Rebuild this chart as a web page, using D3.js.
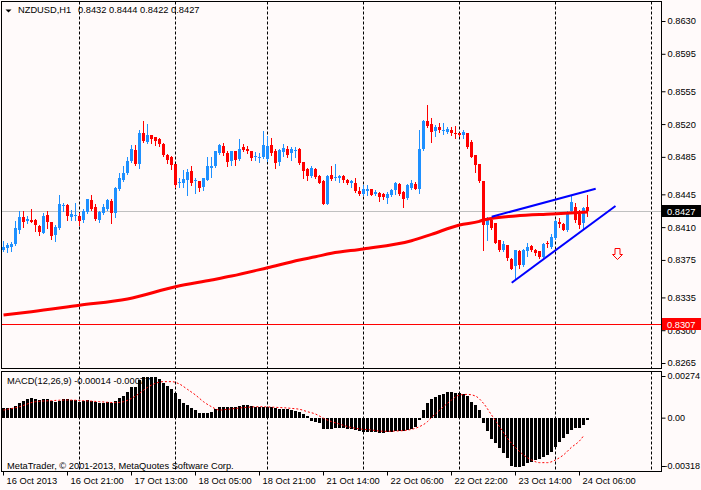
<!DOCTYPE html>
<html>
<head>
<meta charset="utf-8">
<script src="https://cdn.jsdelivr.net/npm/d3@7"></script>
<style>
  body { margin: 0; background: #fffafa; }
  svg { display: block; }
  text { font-family: "Liberation Sans", Arial, sans-serif; font-size: 9.3px; fill: #000; }
  .macdAxis text { font-size: 9px; }
</style>
</head>
<body>
<svg id="chart" width="701" height="490"></svg>
<script>
// ---- data ----
const symbol = "NZDUSD,H1";

const opens = [
  .8386,.8388,.8389,.8392,.8407,.8421,.8417,.8418,.8418,.8411,
  .8404,.8423,.8416,.8402,.8409,.8433,.8434,.8421,.8422,.8422,
  .8418,.8426,.8439,.8431,.8418,.8425,.8429,.8438,.8425,.8451,
  .8460,.8468,.8481,.8492,.8477,.8510,.8501,.8508,.8506,.8504,
  .8499,.8487,.8485,.8477,.8457,.8457,.8460,.8470,.8459,.8459,
  .8453,.8460,.8473,.8475,.8489,.8497,.8489,.8481,.8491,.8483,
  .8495,.8493,.8491,.8485,.8484,.8485,.8483,.8498,.8491,.8479,
  .8490,.8493,.8489,.8491,.8493,.8480,.8472,.8465,.8472,.8465,
  .8459,.8435,.8466,.8463,.8462,.8465,.8460,.8457,.8457,.8449,
  .8445,.8449,.8451,.8445,.8446,.8445,.8441,.8444,.8450,.8456,
  .8448,.8441,.8452,.8456,.8451,.8493,.8523,.8520,.8513,.8517,
  .8513,.8512,.8514,.8511,.8510,.8508,.8511,.8501,.8487,.8477,
  .8459,.8412,.8418,.8414,.8396,.8386,.8391,.8376,.8368,.8384,
  .8370,.8385,.8390,.8386,.8384,.8378,.8393,.8389,.8398,.8416,
  .8413,.8407,.8427,.8431,.8424,.8414,.8432
];
const highs = [
  .8395,.8393,.8394,.8417,.8427,.8427,.8422,.8429,.8419,.8412,
  .8425,.8427,.8416,.8412,.8444,.8436,.8435,.8428,.8436,.8425,
  .8429,.8440,.8444,.8435,.8427,.8435,.8440,.8440,.8453,.8468,
  .8475,.8485,.8498,.8498,.8514,.8523,.8520,.8508,.8506,.8505,
  .8500,.8488,.8486,.8477,.8462,.8471,.8472,.8475,.8462,.8459,
  .8462,.8485,.8485,.8491,.8499,.8500,.8491,.8491,.8491,.8504,
  .8499,.8497,.8491,.8490,.8489,.8513,.8507,.8505,.8493,.8493,
  .8499,.8497,.8495,.8495,.8494,.8480,.8473,.8475,.8473,.8466,
  .8460,.8466,.8475,.8477,.8466,.8466,.8461,.8460,.8462,.8453,
  .8455,.8455,.8451,.8450,.8448,.8446,.8448,.8451,.8458,.8457,
  .8449,.8456,.8460,.8458,.8514,.8524,.8540,.8526,.8519,.8521,
  .8521,.8517,.8517,.8518,.8511,.8514,.8511,.8503,.8487,.8477,
  .8459,.8421,.8419,.8414,.8396,.8395,.8391,.8377,.8386,.8386,
  .8387,.8393,.8391,.8387,.8384,.8393,.8395,.8403,.8418,.8420,
  .8414,.8427,.8444,.8436,.8428,.8431,.8444
];
const lows = [
  .8384,.8383,.8385,.8391,.8404,.8410,.8414,.8416,.8406,.8402,
  .8404,.8409,.8397,.8395,.8408,.8427,.8418,.8418,.8418,.8412,
  .8416,.8425,.8428,.8418,.8415,.8424,.8428,.8414,.8421,.8450,
  .8459,.8467,.8479,.8476,.8473,.8501,.8500,.8500,.8498,.8497,
  .8486,.8478,.8472,.8453,.8453,.8453,.8444,.8455,.8446,.8449,
  .8450,.8460,.8464,.8474,.8488,.8487,.8475,.8476,.8476,.8482,
  .8491,.8489,.8482,.8482,.8480,.8484,.8481,.8487,.8473,.8476,
  .8486,.8485,.8482,.8485,.8477,.8462,.8460,.8463,.8462,.8457,
  .8435,.8435,.8460,.8460,.8458,.8458,.8456,.8453,.8448,.8444,
  .8444,.8444,.8444,.8444,.8438,.8440,.8436,.8443,.8445,.8444,
  .8432,.8440,.8451,.8451,.8446,.8492,.8517,.8501,.8507,.8512,
  .8509,.8510,.8508,.8505,.8507,.8505,.8494,.8485,.8469,.8458,
  .8386,.8396,.8408,.8393,.8384,.8385,.8375,.8365,.8355,.8366,
  .8368,.8379,.8384,.8380,.8377,.8378,.8389,.8388,.8397,.8410,
  .8407,.8406,.8425,.8416,.8409,.8409,.8422
];
const closes = [
  .8389,.8391,.8392,.8409,.8421,.8416,.8419,.8416,.8412,.8405,
  .8422,.8415,.8401,.8410,.8435,.8434,.8422,.8424,.8423,.8417,
  .8427,.8440,.8429,.8419,.8426,.8431,.8439,.8425,.8452,.8462,
  .8468,.8481,.8493,.8477,.8511,.8502,.8508,.8504,.8502,.8499,
  .8487,.8482,.8476,.8455,.8458,.8461,.8469,.8457,.8460,.8452,
  .8462,.8475,.8475,.8491,.8498,.8489,.8480,.8491,.8482,.8493,
  .8492,.8491,.8484,.8486,.8485,.8498,.8497,.8489,.8478,.8492,
  .8494,.8487,.8493,.8492,.8478,.8470,.8465,.8473,.8463,.8457,
  .8435,.8465,.8461,.8464,.8465,.8460,.8457,.8459,.8449,.8445,
  .8451,.8451,.8444,.8448,.8442,.8442,.8445,.8450,.8457,.8445,
  .8440,.8455,.8457,.8451,.8493,.8523,.8518,.8512,.8517,.8514,
  .8514,.8515,.8511,.8509,.8508,.8512,.8495,.8485,.8476,.8459,
  .8412,.8419,.8409,.8393,.8386,.8392,.8377,.8365,.8386,.8370,
  .8386,.8389,.8386,.8382,.8378,.8392,.8392,.8399,.8417,.8413,
  .8407,.8425,.8437,.8418,.8412,.8430,.8427
];

// moving average (thick red), sampled along the bars
const maBars   = [0, 7, 19, 31, 43, 52, 57, 66, 74, 78, 82, 90, 102, 107, 114, 119, 120, 128, 137, 146];
const maValues = [0.83162, 0.83197, 0.83266, 0.83333, 0.83464, 0.83536, 0.83578, 0.83667, 0.83749, 0.83784,
                  0.83821, 0.83867, 0.83955, 0.84023, 0.84123, 0.84162, 0.84176, 0.84219, 0.84240, 0.84261];

// MACD(12,26,9) histogram, one per bar
const macdHist = [
  0.00061,0.00061,0.00061,0.00077,0.00099,0.00112,0.00120,0.00127,0.00120,0.00116,
  0.00120,0.00120,0.00112,0.00105,0.00112,0.00120,0.00120,0.00116,0.00116,0.00105,
  0.00112,0.00116,0.00110,0.00101,0.00099,0.00099,0.00105,0.00099,0.00112,0.00127,
  0.00142,0.00171,0.00199,0.00204,0.00247,0.00265,0.00269,0.00269,0.00265,0.00252,
  0.00230,0.00208,0.00186,0.00160,0.00120,0.00099,0.00083,0.00061,0.00050,0.00033,
  0.00028,0.00033,0.00039,0.00055,0.00072,0.00072,0.00068,0.00072,0.00072,0.00077,
  0.00083,0.00083,0.00077,0.00072,0.00068,0.00072,0.00072,0.00068,0.00061,0.00057,
  0.00057,0.00055,0.00050,0.00046,0.00039,0.00024,0.00011,-0.00022,-0.00031,-0.00037,
  -0.00077,-0.00077,-0.00074,-0.00070,-0.00070,-0.00070,-0.00074,-0.00077,-0.00081,-0.00088,
  -0.00092,-0.00092,-0.00096,-0.00096,-0.00099,-0.00099,-0.00096,-0.00092,-0.00088,-0.00085,
  -0.00085,-0.00081,-0.00077,-0.00059,-0.00015,0.00050,0.00094,0.00120,0.00138,0.00149,
  0.00153,0.00166,0.00166,0.00164,0.00160,0.00153,0.00142,0.00105,0.00083,0.00050,
  -0.00037,-0.00088,-0.00140,-0.00164,-0.00201,-0.00234,-0.00263,-0.00318,-0.00322,-0.00326,
  -0.00318,-0.00300,-0.00289,-0.00278,-0.00274,-0.00256,-0.00245,-0.00223,-0.00195,-0.00158,
  -0.00136,-0.00107,-0.00081,-0.00070,-0.00066,-0.00048,-0.00014
];
// signal line (red dotted), sampled
const signalBars = [0,4,8,12,16,20,24,28,30,32,34,36,38,40,42,44,46,48,50,52,54,56,60,64,68,72,74,76,78,80,
                    82,84,86,88,90,92,94,96,98,100,102,104,106,107,108,110,112,114,116,118,120,122,124,126,128,
                    130,132,134,136,138,140,142,144,145];
const signalValues = [0.00050,0.00072,0.00105,0.00112,0.00116,0.00112,0.00105,0.00099,0.00105,0.00127,
                      0.00160,0.00199,0.00226,0.00237,0.00237,0.00221,0.00186,0.00149,0.00105,0.00072,
                      0.00050,0.00055,0.00066,0.00072,0.00068,0.00061,0.00055,0.00039,0.00024,-0.00004,
                      -0.00026,-0.00042,-0.00059,-0.00070,-0.00077,-0.00081,-0.00088,-0.00090,-0.00088,-0.00085,
                      -0.00077,-0.00059,-0.00026,0.00002,0.00024,0.00072,0.00116,0.00149,0.00153,0.00142,
                      0.00094,0.00018,-0.00059,-0.00136,-0.00197,-0.00245,-0.00278,-0.00296,-0.00296,-0.00278,
                      -0.00245,-0.00195,-0.00153,-0.00120];

const timeTickBars   = [0, 16, 32, 48, 64, 80, 96, 112, 128, 144];
const timeTickLabels = ["16 Oct 2013", "16 Oct 21:00", "17 Oct 13:00", "18 Oct 05:00", "18 Oct 21:00",
                        "21 Oct 14:00", "22 Oct 06:00", "22 Oct 22:00", "23 Oct 14:00", "24 Oct 06:00"];
const gridBars = [19, 43, 66, 90, 114, 138, 162];   // day separators

const priceTicks = [0.8630, 0.8595, 0.8555, 0.8520, 0.8485, 0.8445, 0.8410, 0.8375, 0.8335, 0.8300, 0.8265];
const macdTicks  = [0.00274, 0, -0.00318];
const macdLabel  = "MACD(12,26,9) -0.00014 -0.00077";

// objects drawn on the chart
const trendUpper = [[122.05, 0.84211], [148.05, 0.84510]];
const trendLower = [[127.05, 0.83507], [153.0, 0.84326]];
const levelLine  = 0.8307;
const arrowDown  = [153.4, 0.8388];

// ---- layout ----
const svg = d3.select("#chart");
const W = 701, H = 490;
const L = 1.5, R = 661.5, mainTop = 1.5, mainBot = 368.5, macdTop = 371.5, macdBot = 471.5;
const bg = "#fffafa", bull = "#1e90ff", bear = "#ff0000";

const x  = d3.scaleLinear().domain([0, 1]).range([3.5, 7.5]);
const y  = d3.scaleLinear().domain([0.8265, 0.8630]).range([363, 21]);
const yM = d3.scaleLinear().domain([-0.00318, 0.00274]).range([466, 376]);

svg.append("rect").attr("width", W).attr("height", H).attr("fill", bg);

const defs = svg.append("defs");
defs.append("clipPath").attr("id", "clipMain").append("rect")
  .attr("x", L).attr("y", mainTop).attr("width", R - L).attr("height", mainBot - mainTop);
defs.append("clipPath").attr("id", "clipMacd").append("rect")
  .attr("x", L).attr("y", macdTop).attr("width", R - L).attr("height", macdBot - macdTop);

const main = svg.append("g").attr("clip-path", "url(#clipMain)");
const macd = svg.append("g").attr("clip-path", "url(#clipMacd)");

// day separator grid
[[main, mainTop, mainBot], [macd, macdTop, macdBot]].forEach(([g, t, b]) => {
  g.selectAll("line.grid").data(gridBars).join("line").attr("class", "grid")
    .attr("x1", d => x(d)).attr("x2", d => x(d)).attr("y1", t).attr("y2", b)
    .attr("stroke", "#000").attr("stroke-dasharray", "3,2");
});

// header text
svg.append("path").attr("d", "M5.5,9.5 L11.5,9.5 L8.5,12.5 Z").attr("fill", "#000");
svg.append("text").attr("x", 18).attr("y", 13).text(symbol);
const last = opens.length - 1;
svg.append("text").attr("x", 78).attr("y", 13)
  .text([opens[last], highs[last], lows[last], closes[last]].map(d3.format(".4f")).join(" "));

// bid line and level line
main.append("line").attr("x1", L).attr("x2", R)
  .attr("y1", Math.round(y(closes[last])) + 0.5).attr("y2", Math.round(y(closes[last])) + 0.5)
  .attr("stroke", "#c0c0c0");
main.append("line").attr("x1", L).attr("x2", R)
  .attr("y1", Math.round(y(levelLine)) + 0.5).attr("y2", Math.round(y(levelLine)) + 0.5)
  .attr("stroke", "#ff0000");

// candles
const bars = d3.range(opens.length).map(i => ({ i, o: opens[i], h: highs[i], l: lows[i], c: closes[i] }));
const candle = main.selectAll("g.candle").data(bars).join("g").attr("class", "candle")
  .attr("fill", d => d.c > d.o ? bull : bear);
candle.append("rect")
  .attr("x", d => x(d.i) - 0.5).attr("width", 1)
  .attr("y", d => Math.round(y(d.h)))
  .attr("height", d => Math.round(y(d.l)) - Math.round(y(d.h)) + 1);
candle.append("rect")
  .attr("x", d => x(d.i) - 1.5).attr("width", 3)
  .attr("y", d => Math.round(y(Math.max(d.o, d.c))))
  .attr("height", d => Math.max(1, Math.round(y(Math.min(d.o, d.c))) - Math.round(y(Math.max(d.o, d.c)))));

// moving average
main.append("path")
  .attr("d", d3.line().curve(d3.curveMonotoneX).x(d => x(d)).y((d, k) => y(maValues[k]))(maBars))
  .attr("fill", "none").attr("stroke", "#ff0000").attr("stroke-width", 3);

// trend lines
[trendUpper, trendLower].forEach(t => {
  main.append("line")
    .attr("x1", x(t[0][0])).attr("y1", y(t[0][1]))
    .attr("x2", x(t[1][0])).attr("y2", y(t[1][1]))
    .attr("stroke", "#0000ff").attr("stroke-width", 2);
});

// sell arrow
{
  const cx = Math.round(x(arrowDown[0])) + 0.5, top = Math.round(y(arrowDown[1])) + 0.5;
  main.append("path")
    .attr("d", `M${cx - 2.5},${top} L${cx + 2.5},${top} L${cx + 2.5},${top + 6} L${cx + 5},${top + 6}
                L${cx},${top + 11} L${cx - 5},${top + 6} L${cx - 2.5},${top + 6} Z`)
    .attr("fill", bg).attr("stroke", "#ff0000");
}

// MACD window
svg.append("text").attr("x", 7).attr("y", 384).text(macdLabel);
const zero = Math.round(yM(0));
macd.selectAll("rect.hist").data(macdHist).join("rect").attr("class", "hist")
  .attr("x", (d, i) => x(i) - 1.5).attr("width", 3)
  .attr("y", d => d >= 0 ? Math.round(yM(d)) : zero)
  .attr("height", d => Math.max(1, Math.abs(zero - Math.round(yM(d)))))
  .attr("fill", "#000");
macd.append("path")
  .attr("d", d3.line().curve(d3.curveMonotoneX).x(d => x(d)).y((d, k) => yM(signalValues[k]))(signalBars))
  .attr("fill", "none").attr("stroke", "#ff0000").attr("stroke-dasharray", "2,2");
svg.append("text").attr("x", 7).attr("y", 469)
  .text("MetaTrader, \u00a9 2001-2013, MetaQuotes Software Corp.");

// panel frames
svg.append("rect").attr("x", L).attr("y", mainTop).attr("width", R - L).attr("height", mainBot - mainTop)
  .attr("fill", "none").attr("stroke", "#000");
svg.append("rect").attr("x", L).attr("y", macdTop).attr("width", R - L).attr("height", macdBot - macdTop)
  .attr("fill", "none").attr("stroke", "#000");

// axes
svg.append("g").attr("transform", `translate(${R},0)`)
  .call(d3.axisRight(y).tickValues(priceTicks).tickSize(4).tickPadding(2).tickFormat(d3.format(".4f")))
  .call(g => g.select(".domain").remove());
svg.append("g").attr("class", "macdAxis").attr("transform", `translate(${R},0)`)
  .call(d3.axisRight(yM).tickValues(macdTicks).tickSize(4).tickPadding(2)
    .tickFormat(d => d === 0 ? "0.00" : d.toFixed(5)))
  .call(g => g.select(".domain").remove())
  .call(g => g.selectAll(".tick text").filter(d => d < 0).attr("x", 3));
svg.append("g").attr("transform", `translate(0,${macdBot})`)
  .call(d3.axisBottom(x).tickValues(timeTickBars).tickSize(4).offset(0)
    .tickFormat((d, i) => timeTickLabels[i]))
  .call(g => g.select(".domain").remove())
  .call(g => g.selectAll(".tick text").attr("text-anchor", "start").attr("x", 3).attr("y", 6));

// price tags on the axis
[[closes[last], "#000"], [levelLine, "#ff0000"]].forEach(([p, col]) => {
  const cy = Math.round(y(p));
  svg.append("rect").attr("x", R + 0.5).attr("y", cy - 6).attr("width", W - R).attr("height", 12).attr("fill", col);
  svg.append("text").attr("x", 667).attr("y", cy + 3.5).style("fill", "#fff").text(d3.format(".4f")(p));
});
</script>
</body>
</html>
